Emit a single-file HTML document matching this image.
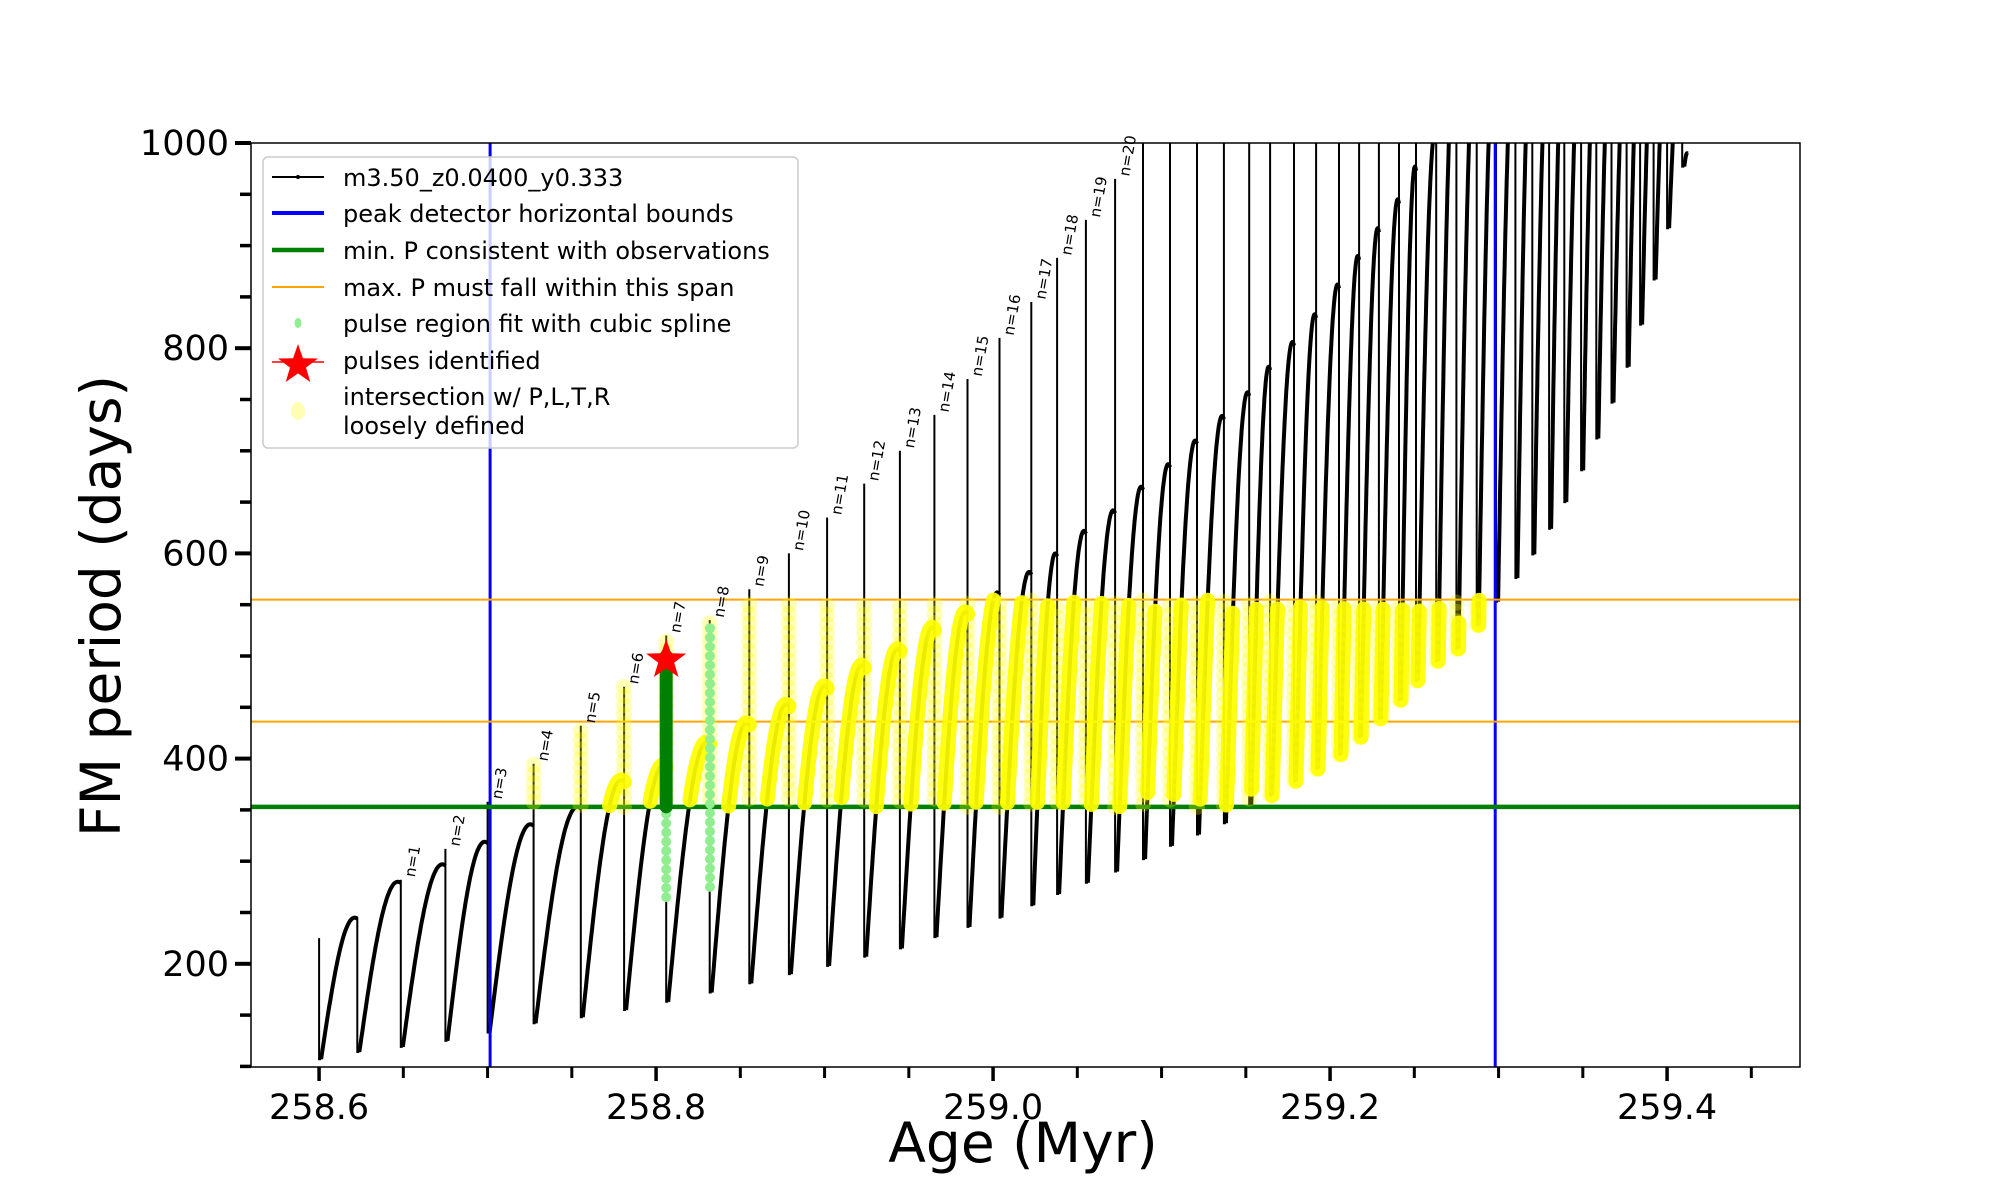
<!DOCTYPE html>
<html><head><meta charset="utf-8">
<style>
html,body{margin:0;padding:0;background:#fff;}
svg{display:block;font-family:"DejaVu Sans","Liberation Sans",sans-serif;}
</style></head>
<body>
<svg id="chart" width="2000" height="1200" viewBox="0 0 2000 1200">
<defs><clipPath id="plotclip"><rect x="251" y="143" width="1549" height="924"/></clipPath></defs>
<rect x="0" y="0" width="2000" height="1200" fill="#fff"/>
<g id="plot" clip-path="url(#plotclip)"></g>
<g id="labels"></g>
<rect x="251" y="143" width="1549" height="924" fill="none" stroke="#000" stroke-width="1.5"/>
<g id="xticks"></g>
<g id="yticks"></g>
<text x="1023" y="1162" font-size="55" text-anchor="middle">Age (Myr)</text>
<text transform="translate(120,606) rotate(-90)" font-size="55" text-anchor="middle">FM period (days)</text>
<g id="legend">
<rect x="263" y="157" width="535" height="291" rx="5" fill="#fff" fill-opacity="0.8" stroke="#ccc" stroke-width="1.5"/>
<g><line x1="272" y1="177" x2="324" y2="177" stroke="#000" stroke-width="2"/><circle cx="298" cy="177" r="2" fill="#000"/><text x="343" y="186" font-size="24">m3.50_z0.0400_y0.333</text></g>
<g><line x1="272" y1="213" x2="324" y2="213" stroke="#0000ff" stroke-width="4"/><text x="343" y="222" font-size="24">peak detector horizontal bounds</text></g>
<g><line x1="272" y1="250" x2="324" y2="250" stroke="#008000" stroke-width="4.5"/><text x="343" y="259" font-size="24">min. P consistent with observations</text></g>
<g><line x1="272" y1="287" x2="324" y2="287" stroke="#ffa500" stroke-width="2"/><text x="343" y="296" font-size="24">max. P must fall within this span</text></g>
<g><ellipse cx="298" cy="323" rx="3.5" ry="5" fill="#90ee90"/><text x="343" y="332" font-size="24">pulse region fit with cubic spline</text></g>
<g><line x1="272" y1="362" x2="324" y2="362" stroke="#ff0000" stroke-width="1.5"/><polygon id="legstar" fill="#ff0000"/><text x="343" y="369" font-size="24">pulses identified</text></g>
<g><ellipse cx="298" cy="411" rx="7" ry="9" fill="#ffff80" fill-opacity="0.6"/><text x="343" y="405" font-size="24">intersection w/ P,L,T,R</text><text x="343" y="434" font-size="24">loosely defined</text></g>
</g>
</svg>
<script>
const ages=[258.6227,258.6485,258.675,258.700,258.7273,258.7553,258.781,258.806,258.8318,258.8553,258.8788,258.9015,258.9235,258.9447,258.9652,258.9848,259.0038,259.0227,259.038,259.0551,259.0724,259.089,259.105,259.121,259.137,259.152,259.1644,259.1786,259.1917,259.2053,259.2172,259.229,259.2409,259.251,259.263,259.275,259.287,259.2985,259.31,259.32,259.330,259.339,259.349,259.358,259.367,259.376,259.384,259.392,259.400,259.409];
const peaks=[245,280,297,319,336,353,379,394,416,435,453,471,491,507,528,543,562,582,600,622,642,665,687,710,734,757,782,806,833,862,890,917,945,977,1010,1100,1100,1100,1100,1100,1100,1100,1100,1100,1100,1100,1100,1100,1100,1100];
const mins=[114,119,125,133,142,148,155,163,172,181,190,198,207,215,226,236,245,257,268,279,290,302,315,326,337,352,364,378,390,404,421,439,457,476,495,507,530,553,576,599,624,650,681,712,747,782,823,867,917,977];
const spikes=[245,282,312,358,395,432,470,520,535,565,600,635,668,700,735,770,810,845,888,925,965,1100,1100,1100,1100,1100,1100,1100,1100,1100,1100,1100,1100,1100,1100,1100,1100,1100,1100,1100,1100,1100,1100,1100,1100,1100,1100,1100,1100,1100];
const startAge=258.600, startP=225, startMin=107, endAge=259.412, endP=990;
const blueBounds=[258.7015,259.298];
const minP=[353];
const maxPSpan=[436,555];
const xTicks=[258.6,258.65,258.7,258.75,258.8,258.85,258.9,258.95,259.0,259.05,259.1,259.15,259.2,259.25,259.3,259.35,259.4,259.45];
const xLabels=["258.6","258.8","259.0","259.2","259.4"];
const yTicks=[100,150,200,250,300,350,400,450,500,550,600,650,700,750,800,850,900,950,1000];
const yLabels=["200","400","600","800","1000"];
const pulseAge=[258.806];
const pulseP=[498];
const splineAges=[258.806,258.832];
const splineLow=[265,275];
const splineHigh=[500,530];
const greenTop=[500];

const NS="http://www.w3.org/2000/svg";
const X=t=>251+(t-258.5596)*1685;
const Y=p=>143+(1000-p)*1.026;
function mk(tag,attrs,parent){const e=document.createElementNS(NS,tag);for(const k in attrs)e.setAttribute(k,attrs[k]);parent.appendChild(e);return e;}
const plot=document.getElementById('plot');
const inBand=(t,p)=>t>=blueBounds[0]&&t<=blueBounds[1]&&p>=minP[0]&&p<=maxPSpan[1];

let archPts=[];let spikeSegs=[];let archD="";
let pt=startAge+0.0012, pm=startMin;
spikeSegs.push([startAge,startP,startMin]);
const K=0.54*Math.PI;
function arch(t0,m,t1,p){let d="";const seg=[];for(let k=0;k<=40;k++){const u=k/40;const t=t0+u*(t1-t0);const v=m+(p-m)*Math.sin(u*K);d+=(k?"L":"M")+X(t).toFixed(1)+","+Y(v).toFixed(1);seg.push([t,v]);}archPts.push(seg);return d;}
for(let i=0;i<ages.length;i++){
  archD+=arch(pt,pm,ages[i],peaks[i]);
  const endV=pm+(peaks[i]-pm)*Math.sin(K);
  spikeSegs.push([ages[i],Math.max(endV,spikes[i]),mins[i]]);
  pt=ages[i]+0.0012;pm=mins[i];
}
archD+=arch(pt,pm,endAge,endP);
let spikeD="";
for(const s of spikeSegs){spikeD+="M"+X(s[0]).toFixed(1)+","+Y(s[1]).toFixed(1)+"L"+X(s[0]).toFixed(1)+","+Y(s[2]).toFixed(1)+"L"+X(s[0]+0.0012).toFixed(1)+","+Y(s[2]).toFixed(1);}
const sp=mk('path',{d:spikeD,stroke:'#000','stroke-width':2,fill:'none'},plot);


const ar=mk('path',{d:archD,stroke:'#000','stroke-width':4,fill:'none','stroke-linejoin':'round'},plot);



for(const b of blueBounds){const l=mk('line',{x1:X(b),x2:X(b),y1:143,y2:1067,stroke:'#0000ff','stroke-width':3},plot);

}
for(const p of maxPSpan){const l=mk('line',{x1:251,x2:1800,y1:Y(p),y2:Y(p),stroke:'#ffa500','stroke-width':2},plot);

}
{const l=mk('line',{x1:251,x2:1800,y1:Y(minP[0]),y2:Y(minP[0]),stroke:'#008000','stroke-width':4.5},plot);

}

const yg=mk('g',{},plot);


for(const seg of archPts){let d="";let on=false;for(const [t,v] of seg){if(inBand(t,v)){d+=(on?"L":"M")+X(t).toFixed(1)+","+Y(v).toFixed(1);on=true;}else on=false;}
 if(d){const e=mk('path',{d:d,stroke:'#ffff00','stroke-width':15,'stroke-linecap':'round','stroke-linejoin':'round',fill:'none','stroke-opacity':0.92},yg);
 
 }}
for(const s of spikeSegs){for(let v=s[2];v<=s[1];v+=9){if(inBand(s[0],v)){const c=mk('circle',{cx:X(s[0]),cy:Y(v),r:8,fill:'#ffff00','fill-opacity':0.28},yg);
 
 }}}

for(let i=0;i<splineAges.length;i++){for(let v=splineLow[i];v<=splineHigh[i];v+=9){const c=mk('circle',{cx:X(splineAges[i]),cy:Y(v),r:5,fill:'#90ee90'},plot);
 
 }}
{const l=mk('line',{x1:X(pulseAge[0]),x2:X(pulseAge[0]),y1:Y(minP[0]),y2:Y(greenTop[0]),stroke:'#008000','stroke-width':13,'stroke-linecap':'round'},plot);

}
function starPts(cx,cy,R){const r=R*0.4;let s=[];for(let k=0;k<10;k++){const a=-Math.PI/2+k*Math.PI/5;const rr=k%2?r:R;s.push((cx+rr*Math.cos(a)).toFixed(1)+","+(cy+rr*Math.sin(a)).toFixed(1));}return s.join(" ");}
for(let i=0;i<pulseAge.length;i++){const st=mk('polygon',{points:starPts(X(pulseAge[i]),Y(pulseP[i])+2,21),fill:'#ff0000'},plot);

}
document.getElementById('legstar').setAttribute('points',starPts(298,365,21));

const lg=document.getElementById('labels');
for(let n=1;n<=20;n++){const t=ages[n],p=spikes[n];const x=X(t)+14,y=Y(p)-2;
 const tx=mk('text',{x:x,y:y,'font-size':15,transform:`rotate(-80 ${x} ${y})`},lg);tx.textContent="n="+n;
 
 }

const xg=document.getElementById('xticks');
for(const t of xTicks){const x=X(t);const major=Math.round(t*100)%20===0;
 const l=mk('line',{x1:x,x2:x,y1:1067,y2:1067+(major?14:11),stroke:'#000','stroke-width':major?3.5:3},xg);
 
 }
for(const s of xLabels){const tx=mk('text',{x:X(parseFloat(s)),y:1119,'font-size':35,'text-anchor':'middle'},xg);tx.textContent=s;
 
 }
const ygr=document.getElementById('yticks');
for(const p of yTicks){const y=Y(p);const major=yLabels.includes(String(p));
 const l=mk('line',{x1:251-(major?16:11),x2:251,y1:y,y2:y,stroke:'#000','stroke-width':major?4:3.5},ygr);
 
 }
for(const s of yLabels){const tx=mk('text',{x:229,y:Y(parseFloat(s))+12,'font-size':35,'text-anchor':'end'},ygr);tx.textContent=s;
 
 }
</script>
</body></html>
